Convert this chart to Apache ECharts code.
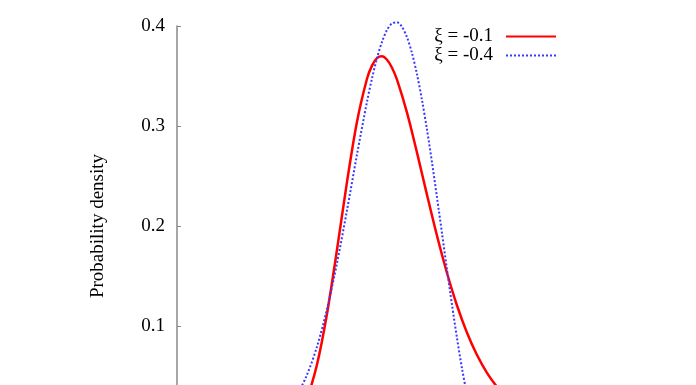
<!DOCTYPE html>
<html lang="en">
<head>
    <meta charset="UTF-8">
    <title>GEV density</title>
    <script src="https://cdn.jsdelivr.net/npm/echarts@6/dist/echarts.min.js"></script>
    <style>
        html, body { margin: 0; padding: 0; background: #fff; }
        #cc { width: 696px; height: 385px; }
    </style>
</head>
<body>
<div id="cc"></div>
<script>
// values
var seriesNames = ['ξ = -0.1', 'ξ = -0.4'];
var yTicks = [0, 0.1, 0.2, 0.3, 0.4];

var redX = [-2.5, -2.25, -2, -1.75, -1.5, -1.25, -1, -0.75, -0.5, -0.25, -0.125, 0, 0.125, 0.25, 0.375,
            0.5, 0.75, 1, 1.25, 1.5, 1.75, 2, 2.25, 2.5, 2.75, 3, 3.25, 3.5];
var redY = [0.0007, 0.0031, 0.0106, 0.0283, 0.0615, 0.1123, 0.1762, 0.2441, 0.3043, 0.3472, 0.3604, 0.3679, 0.3697, 0.3663, 0.3583,
            0.3463, 0.3134, 0.2734, 0.2311, 0.1902, 0.1530, 0.1205, 0.0933, 0.0710, 0.0532, 0.0392, 0.0285, 0.0204];

var blueX = [-2.5, -2.25, -2, -1.75, -1.5, -1.25, -1, -0.75, -0.5, -0.25, -0.125, 0, 0.125, 0.25, 0.375, 0.5, 0.625,
             0.75, 0.875, 1, 1.125, 1.25, 1.375, 1.5, 1.625, 1.75, 1.875, 2, 2.125, 2.25, 2.375, 2.5];
var blueY = [0.0099, 0.0181, 0.0313, 0.0512, 0.0794, 0.1168, 0.1629, 0.2158, 0.2715, 0.3243, 0.3477, 0.3679, 0.3842, 0.3960, 0.4026, 0.4037, 0.3991,
             0.3887, 0.3728, 0.3517, 0.3259, 0.2963, 0.2635, 0.2286, 0.1926, 0.1564, 0.1211, 0.0879, 0.0576, 0.0315, 0.0112, 0];

function pairs(xs, ys) {
    return xs.map(function (x, i) { return [x, ys[i]]; });
}

var chart = echarts.init(document.getElementById('cc'));
var serif = '"Liberation Serif", "DejaVu Serif", serif';

chart.setOption({
    animation: false,
    textStyle: { fontFamily: serif },
    // plot runs below the bottom edge of the picture (y = 0 is off-screen)
    grid: { left: 177, top: 26, width: 400, height: 400, outerBoundsMode: 'none', containLabel: false },
    legend: {
        orient: 'vertical',
        align: 'right',
        right: 134,
        top: 22,
        itemWidth: 50,
        itemHeight: 10,
        itemGap: 0,
        itemStyle: { opacity: 0 },
        textStyle: { fontFamily: serif, fontSize: 19, color: '#000', lineHeight: 19, padding: [0, 8, 0, 0] },
        data: seriesNames
    },
    xAxis: {
        type: 'value',
        min: -5,
        max: 5,
        show: false
    },
    yAxis: {
        type: 'value',
        min: yTicks[0],
        max: yTicks[yTicks.length - 1],
        interval: 0.1,
        name: 'Probability density',
        nameLocation: 'middle',
        nameGap: 69,
        nameTextStyle: { fontFamily: serif, fontSize: 19, color: '#000' },
        axisLine: { show: true, onZero: false, lineStyle: { color: '#888', width: 1.5 } },
        axisTick: { show: true, inside: true, length: 4, lineStyle: { color: '#888' } },
        splitLine: { show: false },
        axisLabel: {
            margin: 12,
            fontFamily: serif,
            fontSize: 19,
            color: '#000',
            formatter: function (v) { return v === 0 ? '' : v.toFixed(1); }
        }
    },
    series: [{
        name: seriesNames[0],
        type: 'line',
        showSymbol: false,
        symbol: 'none',
        smooth: 0.3,
        clip: false,
        color: '#ff0000',
        lineStyle: { color: '#ff0000', width: 2.5 },
        data: pairs(redX, redY)
    }, {
        name: seriesNames[1],
        type: 'line',
        showSymbol: false,
        symbol: 'none',
        smooth: 0.3,
        clip: false,
        color: '#3a3aff',
        lineStyle: { color: '#3a3aff', width: 2, type: 'dotted' },
        data: pairs(blueX, blueY)
    }]
});
</script>
</body>
</html>
